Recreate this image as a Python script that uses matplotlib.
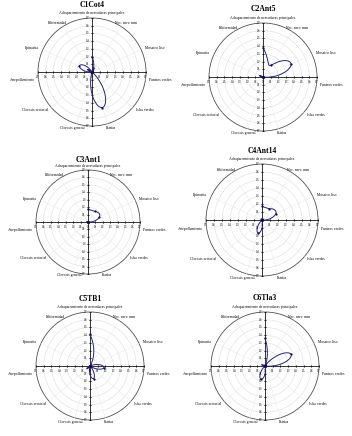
import numpy as np
import matplotlib
matplotlib.use("Agg")
import matplotlib.pyplot as plt
from matplotlib.patches import Circle

plt.rcParams['font.family'] = ['Liberation Serif', 'DejaVu Serif']

# ---------------- data ----------------
categories = ['Achaparramiento de nervaduras principales', 'Nec. nerv. mm',
              'Mosaico liso', 'Punteos verdes', 'Islas verdes', 'Estrías',
              'Clorosis general', 'Clorosis sectorial', 'Arrepollamiento',
              'Epinastia', 'Filiformidad']

titles = ['C1Cot4', 'C2Ant5', 'C3Ant1', 'C4Ant14', 'C5TB1', 'C6Tla3']

c1cot4 = [0.20, 0.00, 0.00, 0.00, 0.00, 0.48, 0.00, 0.00, 0.00, 0.18, 0.00]
c2ant5 = [0.38, 0.18, 0.40, 0.00, 0.00, 0.00, 0.00, 0.00, 0.00, 0.00, 0.00]
c3ant1 = [0.17, 0.17, 0.17, 0.00, 0.00, 0.00, 0.00, 0.00, 0.00, 0.00, 0.00]
c4ant14 = [0.17, 0.17, 0.19, 0.00, 0.00, 0.00, 0.17, 0.00, 0.00, 0.00, 0.00]
c5tb1 = [0.41, 0.00, 0.00, 0.18, 0.00, 0.17, 0.00, 0.00, 0.00, 0.00, 0.00]
c6tla3 = [0.36, 0.00, 0.37, 0.00, 0.00, 0.00, 0.18, 0.00, 0.00, 0.00, 0.00]

series = [c1cot4, c2ant5, c3ant1, c4ant14, c5tb1, c6tla3]
ticks = [0.1, 0.2, 0.3, 0.4, 0.5, 0.6, 0.7]
rmax = 0.7

# ---------------- layout (pixels) ----------------
W, H = 352, 436
# centre x, centre y, outer radius, title y
panels = [(92, 72, 54, 5), (263, 77, 54, 9),
          (88, 222, 52, 160), (262, 220, 56, 151),
          (90, 366, 54, 299), (265, 366, 54, 298)]

fig = plt.figure(figsize=(W / 100, H / 100), dpi=100)
fig.patch.set_facecolor('white')

n = len(categories)
angles = np.deg2rad(90 - np.arange(n) * 360.0 / n)
line_col = '#23237a'


def natural_spline(y, steps=40):
    # natural cubic spline of r over equally spaced angles, for drawing the smooth line
    y = np.asarray(y, float)
    m = len(y)
    A = np.zeros((m, m))
    b = np.zeros(m)
    A[0, 0] = A[-1, -1] = 1
    for i in range(1, m - 1):
        A[i, i - 1:i + 2] = [1, 4, 1]
        b[i] = 6 * (y[i + 1] - 2 * y[i] + y[i - 1])
    M = np.linalg.solve(A, b)
    ts, rs = [], []
    for i in range(m - 1):
        u = np.linspace(0, 1, steps, endpoint=(i == m - 2))
        r = ((1 - u) * y[i] + u * y[i + 1]
             + ((1 - u) ** 3 - (1 - u)) * M[i] / 6 + (u ** 3 - u) * M[i + 1] / 6)
        ts.append(i + u)
        rs.append(r)
    return np.concatenate(ts), np.concatenate(rs)


L = 1.0
for (cx, cy, R, ty), vals, title in zip(panels, series, titles):
    hw = R / rmax * L
    ax = fig.add_axes([(cx - hw) / W, 1 - (cy + hw) / H, 2 * hw / W, 2 * hw / H])
    ax.set_xlim(-L, L)
    ax.set_ylim(-L, L)
    ax.set_aspect('equal')
    ax.axis('off')

    # grid circles and spokes
    for t in ticks[:-1]:
        ax.add_patch(Circle((0, 0), t, fill=False, ec='#dcdcdc', lw=0.4))
    for a in angles:
        ax.plot([0, rmax * np.cos(a)], [0, rmax * np.sin(a)], color='#e8e8e8', lw=0.35)
    ax.add_patch(Circle((0, 0), rmax, fill=False, ec='#505050', lw=0.6))

    # cross axes with ticks
    ax.plot([-rmax, rmax], [0, 0], color='black', lw=0.55)
    ax.plot([0, 0], [-rmax, rmax], color='black', lw=0.55)
    tk = 0.012
    for t in ticks:
        for s in (-1, 1):
            ax.plot([s * t, s * t], [-tk, tk], color='black', lw=0.4)
            ax.plot([-tk, tk], [s * t, s * t], color='black', lw=0.4)
            ax.text(s * t, -0.035, '%.1f' % t, fontsize=2.0, ha='center', va='top')
            ax.text(-0.03, s * t, '%.1f' % t, fontsize=2.0, ha='right', va='center')
    ax.text(0.0, -0.035, '0', fontsize=2.0, ha='center', va='top')

    # category labels
    for a, lab in zip(angles, categories):
        c, s = np.cos(a), np.sin(a)
        dx = 0.0
        if c > 0.6:
            ha = 'left'
        elif c < -0.6:
            ha = 'right'
        else:
            ha = 'center'
            if abs(c) > 0.1:
                dx = 0.04 * np.sign(c)
        r = 0.75 if abs(s) < 0.99 else 0.76
        ax.text(r * c + dx, r * s, lab, fontsize=2.7, ha=ha, va='center', clip_on=False)

    # data: smooth line in (angle, r) then points
    tt, rr = natural_spline(vals)
    th = np.deg2rad(90 - tt * 360.0 / n)
    ax.plot(rr * np.cos(th), rr * np.sin(th), color=line_col, lw=0.7)
    v = np.array(vals)
    ax.plot(v * np.cos(angles), v * np.sin(angles), 'o', color='#101040', ms=1.6, mew=0)

    fig.text(cx / W, 1 - ty / H, title, fontsize=5.5, fontweight='bold',
             ha='center', va='center')

fig.savefig('out.png', dpi=100, facecolor='white')
